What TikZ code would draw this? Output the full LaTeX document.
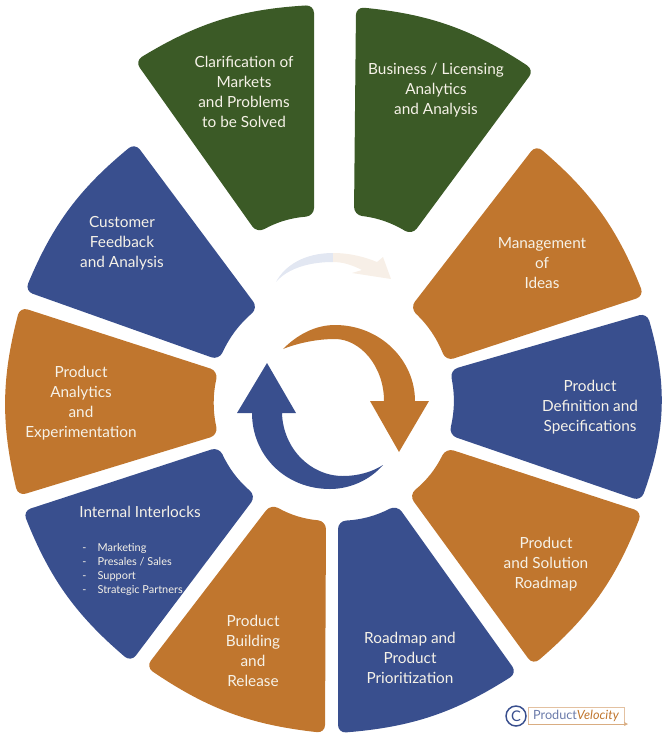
\documentclass[tikz,border=0pt]{standalone}
\usepackage{fontspec}
\setmainfont{Lato}
\definecolor{segblue}{RGB}{57, 79, 142}
\definecolor{seggreen}{RGB}{59, 90, 38}
\definecolor{segorange}{RGB}{192, 118, 46}
\definecolor{segtext}{RGB}{246, 242, 232}
\definecolor{fadeblue}{RGB}{226, 231, 242}
\definecolor{fadeorange}{RGB}{247, 239, 231}
\usetikzlibrary{arrows.meta}
\tikzset{
  segment/.style={rounded corners=6pt},
  seglabel/.style={font=\fontsize{11.5}{15}\selectfont, text=segtext, align=center, inner sep=0pt},
}

\begin{document}
\begin{tikzpicture}[x=0.75pt, y=-0.75pt]
  \useasboundingbox (0, 0) rectangle (671, 739);

  % Top pair
  \fill[seggreen, segment] (135, 61) to[bend left=14] (314, 5) -- (314, 216) to[bend right=12] (257, 233) -- cycle;
  \fill[seggreen, segment] (356, 7) to[bend left=14] (534, 70) -- (412, 235) to[bend right=12] (354, 215) -- cycle;
  \node[seglabel] (clarification) at (244, 92) {Clarification of\\Markets\\and Problems\\to be Solved};
  \node[seglabel] (business) at (436, 90) {Business / Licensing\\Analytics\\and Analysis};

  % Right side
  \fill[segorange, segment] (536, 145) to[bend left=14] (644, 296) -- (446, 361) to[bend right=12] (410, 308) -- cycle;
  \fill[segblue, segment] (647, 313) to[bend left=18] (641, 501) -- (449, 435) to[bend right=12] (450, 370) -- cycle;
  \fill[segorange, segment] (642, 512) to[bend left=14] (533, 665) -- (409, 495) to[bend right=12] (446, 448) -- cycle;
  \node[seglabel] (ideas) at (542, 263) {Management\\of\\Ideas};
  \node[seglabel] (definition) at (590, 407) {Product\\Definition and\\Specifications};
  \node[seglabel] (roadmap) at (546, 564) {Product\\and Solution\\Roadmap};

  % Bottom pair
  \fill[segblue, segment] (517, 673) to[bend left=14] (338, 733) -- (338, 521) to[bend right=12] (397, 505) -- cycle;
  \fill[segorange, segment] (325, 733) to[bend left=14] (146, 667) -- (271, 504) to[bend right=12] (326, 521) -- cycle;
  \node[seglabel] (prioritization) at (410, 658) {Roadmap and\\Product\\Prioritization};
  \node[seglabel] (building) at (253, 651) {Product\\Building\\and\\Release};

  % Left side
  \fill[segblue, segment] (131, 662) to[bend left=14] (23, 511) -- (219, 447) to[bend right=12] (256, 496) -- cycle;
  \fill[segorange, segment] (18, 496) to[bend left=14] (20, 307) -- (218, 371) to[bend right=12] (218, 435) -- cycle;
  \fill[segblue, segment] (25, 291) to[bend left=14] (135, 143) -- (258, 308) to[bend right=12] (219, 360) -- cycle;
  \node[seglabel] (interlocks) at (140, 512) {Internal Interlocks};
  \node[seglabel, anchor=west, align=left, font=\fontsize{8.2}{10.4}\selectfont] (teams) at (82, 569.5) {%
    \makebox[11.5pt][l]{-}Marketing\\
    \makebox[11.5pt][l]{-}Presales / Sales\\
    \makebox[11.5pt][l]{-}Support\\
    \makebox[11.5pt][l]{-}Strategic Partners};
  \node[seglabel] (analytics) at (81, 403) {Product\\Analytics\\and\\Experimentation};
  \node[seglabel] (feedback) at (122, 243) {Customer\\Feedback\\and Analysis};

  % Faint arrow
  \fill[fadeblue] (276, 282) .. controls (285, 265) and (305, 253) .. (333, 253) -- (333, 262) .. controls (310, 262) and (288, 268) .. (276, 282) -- cycle;
  \fill[fadeorange] (333, 253) .. controls (350, 253) and (365, 257) .. (377, 262) -- (383, 257) -- (391, 279) -- (352, 273) -- (362, 270) .. controls (352, 265) and (343, 262) .. (333, 262) -- cycle;

  % Centre arrows
  \fill[segorange] (283, 349) .. controls (298, 334) and (316, 325) .. (335, 325) .. controls (380, 325) and (415, 360) .. (415, 401) -- (429, 401) -- (399, 452) -- (370, 401) -- (384, 401) .. controls (384, 366) and (360, 339) .. (335, 339) .. controls (317, 339) and (298, 343) .. (283, 349) -- cycle;
  \fill[segblue] (383, 465) .. controls (370, 480) and (350, 489) .. (330, 489) .. controls (285, 489) and (252, 455) .. (252, 413) -- (237, 413) -- (267, 363) -- (296, 413) -- (282, 413) .. controls (283, 448) and (310, 476) .. (343, 476) .. controls (358, 476) and (372, 472) .. (383, 465) -- cycle;

  % Logo
  \node[circle, draw=segblue, line width=1.1pt, minimum size=15pt, inner sep=0pt, text=segblue, font=\fontsize{11}{11}\selectfont] (copyright) at (516, 716) {C};
  \coordinate (boxa) at (528, 724);
  \coordinate (boxb) at (528, 707);
  \coordinate (boxc) at (624, 707);
  \coordinate (boxd) at (624, 724);
  \coordinate (boxe) at (628, 724);
  \draw[segorange!45, line width=0.4pt] (boxa) -- (boxb) -- (boxc) -- (boxd);
  \draw[segorange!60, line width=0.4pt, -{Stealth[length=3pt, width=3pt]}] (boxa) -- (boxe);
  \node[font=\fontsize{9.5}{10}\selectfont, inner sep=0pt] (velocity) at (576, 715.5) {\textcolor{segblue!75}{Product}\textcolor{segorange}{\itshape Velocity}};
\end{tikzpicture}
\end{document}
